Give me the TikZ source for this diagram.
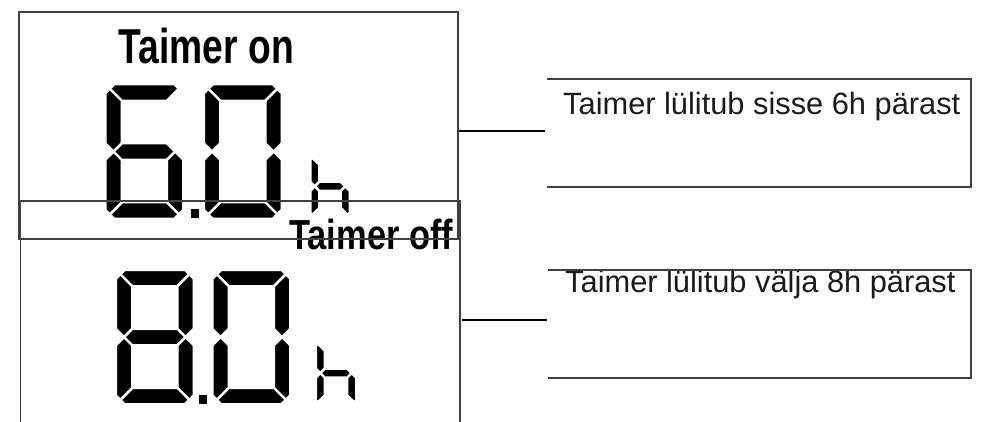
\documentclass[tikz,border=0pt]{standalone}
\usepackage{fontspec}
\setmainfont{Liberation Sans}
\newfontfamily\condA[FakeStretch=0.76]{Liberation Sans}
\newfontfamily\condB[FakeStretch=0.82]{Liberation Sans}
\definecolor{boxgray}{HTML}{404040}
\definecolor{txtblack}{HTML}{1A1A1A}

\tikzset{
 seg/.style={fill=black, draw=white, line width=2.4pt, line join=round},
 frame/.style={draw=boxgray, line width=1.3pt},
 conn/.style={draw=black, line width=1.8pt},
 label/.style={inner sep=0pt, anchor=base west, text=txtblack, font=\fontsize{30.8}{32}\selectfont},
 title/.style={inner sep=0pt, anchor=base west, text=black},
}

\newcommand\SgA{\path[seg] ({\dc/2},{\dc/2}) -- (\dc,0) -- ({\dW-\dc},0) -- ({\dW-\dc/2},{\dc/2}) -- ({\dW-\dt},\dt) -- (\dt,\dt) -- cycle;}
\newcommand\SgB{\path[seg] ({\dW-\dc/2},{\dc/2}) -- (\dW,\dc) -- (\dW,{\dm-\dt/2}) -- ({\dW-\dt/2},\dm) -- ({\dW-\dt},{\dm-\dt/2}) -- ({\dW-\dt},\dt) -- cycle;}
\newcommand\SgC{\path[seg] ({\dW-\dt/2},\dm) -- (\dW,{\dm+\dt/2}) -- (\dW,{\dH-\dc}) -- ({\dW-\dc/2},{\dH-\dc/2}) -- ({\dW-\dt},{\dH-\dt}) -- ({\dW-\dt},{\dm+\dt/2}) -- cycle;}
\newcommand\SgD{\path[seg] (\dt,{\dH-\dt}) -- ({\dW-\dt},{\dH-\dt}) -- ({\dW-\dc/2},{\dH-\dc/2}) -- ({\dW-\dc},\dH) -- (\dc,\dH) -- ({\dc/2},{\dH-\dc/2}) -- cycle;}
\newcommand\SgE{\path[seg] ({\dt/2},\dm) -- (\dt,{\dm+\dt/2}) -- (\dt,{\dH-\dt}) -- ({\dc/2},{\dH-\dc/2}) -- (0,{\dH-\dc}) -- (0,{\dm+\dt/2}) -- cycle;}
\newcommand\SgF{\path[seg] ({\dc/2},{\dc/2}) -- (\dt,\dt) -- (\dt,{\dm-\dt/2}) -- ({\dt/2},\dm) -- (0,{\dm-\dt/2}) -- (0,\dc) -- cycle;}
\newcommand\SgG{\path[seg] ({\dt/2},\dm) -- (\dt,{\dm-\dt/2}) -- ({\dW-\dt},{\dm-\dt/2}) -- ({\dW-\dt/2},\dm) -- ({\dW-\dt},{\dm+\dt/2}) -- (\dt,{\dm+\dt/2}) -- cycle;}

\newcommand\SevenSeg[7]{%
 \begin{scope}[shift={(#1,#2)}]
 \def\dW{#3}\def\dH{#4}\def\dt{#5}\def\dc{#6}\pgfmathsetmacro\dm{#4/2}
 #7
 \end{scope}}

\begin{document}
\begin{tikzpicture}[x=1pt,y=-1pt]
\useasboundingbox (0,0) rectangle (988,422);
\fill[white] (0,0) rectangle (988,422);

% upper display: 6.0 h
\SevenSeg{105.3}{84.3}{78}{134.5}{16.5}{9}{\SgA\SgC\SgD\SgE\SgF\SgG}
\SevenSeg{203.8}{84.3}{78}{134.5}{16.5}{9}{\SgA\SgB\SgC\SgD\SgE\SgF}
\fill (191,209) rectangle (199,218);
\SevenSeg{310.3}{155.8}{39.4}{61}{9}{4}{\SgC\SgE\SgF\SgG}

% lower display: 8.0 h
\SevenSeg{115.8}{269.8}{78}{134.5}{16.5}{9}{\SgA\SgB\SgC\SgD\SgE\SgF\SgG}
\SevenSeg{212.3}{269.8}{78}{134.5}{16.5}{9}{\SgA\SgB\SgC\SgD\SgE\SgF}
\fill (199,395) rectangle (207.3,404);
\SevenSeg{315.8}{341.8}{40.4}{62.5}{9}{4}{\SgC\SgE\SgF\SgG}

% titles
\node[title, font=\condA\bfseries\fontsize{49}{50}\selectfont] (ton) at (118.5,64) {Taimer on};
\node[title, font=\condB\bfseries\fontsize{42}{43}\selectfont] (toff) at (289,250) {Taimer off};

% labels
\node[label] (l1) at (563,115) {Taimer lülitub sisse 6h pärast};
\node[label] (l2) at (565,292.5) {Taimer lülitub välja 8h pärast};

% frames
\coordinate (tl) at (19,12);
\coordinate (br) at (458,239);
\draw[frame] (tl) rectangle (br);
\coordinate (lb1) at (20.7,422);
\coordinate (lt1) at (20.7,201);
\coordinate (rt1) at (460,201);
\coordinate (rb1) at (460,422);
\draw[frame] (lb1) -- (lt1) -- (rt1) -- (rb1);

% label brackets
\coordinate (b1a) at (547,79);
\coordinate (b1b) at (971,79);
\coordinate (b1c) at (971,187);
\coordinate (b1d) at (547,187);
\draw[frame] (b1a) -- (b1b) -- (b1c) -- (b1d);
\coordinate (b2a) at (548,270);
\coordinate (b2b) at (971,270);
\coordinate (b2c) at (971,378);
\coordinate (b2d) at (548,378);
\draw[frame] (b2a) -- (b2b) -- (b2c) -- (b2d);

% connectors
\coordinate (c1s) at (459,130.7);
\coordinate (c1e) at (545,130.7);
\draw[conn] (c1s) -- (c1e);
\coordinate (c2s) at (462,320);
\coordinate (c2e) at (547,320);
\draw[conn] (c2s) -- (c2e);
\end{tikzpicture}
\end{document}
